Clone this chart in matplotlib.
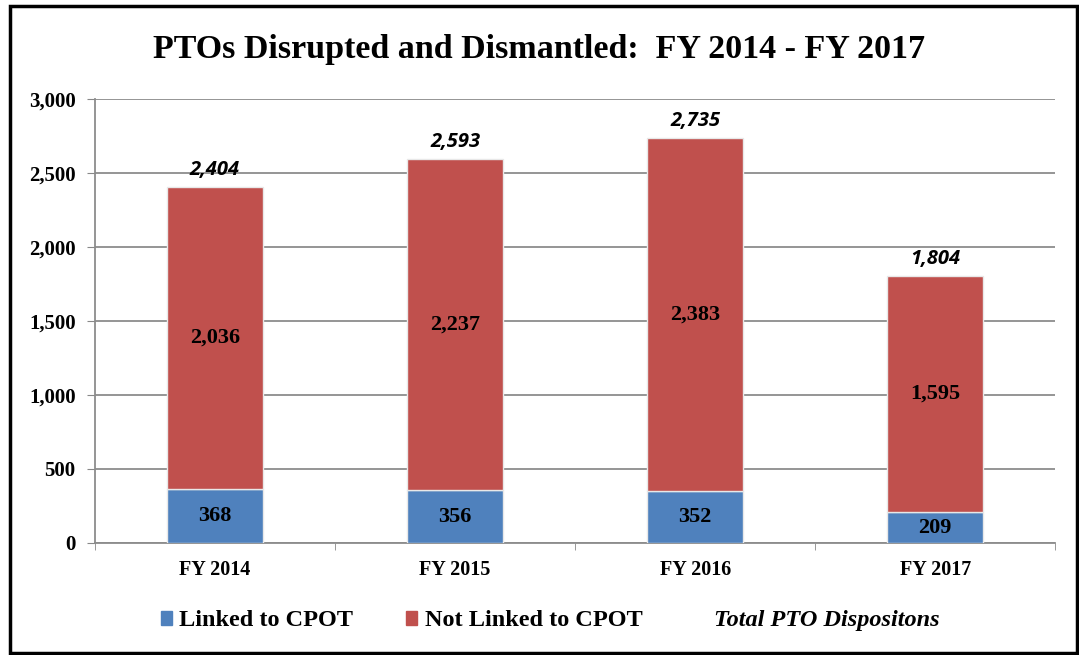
import matplotlib.pyplot as plt
import numpy as np
from matplotlib.patches import Patch, Rectangle
from matplotlib.lines import Line2D

years = ['FY 2014', 'FY 2015', 'FY 2016', 'FY 2017']
linked = [368, 356, 352, 209]
not_linked = [2036, 2237, 2383, 1595]
totals = [2404, 2593, 2735, 1804]

blue = '#4F81BD'
red = '#C0504D'
serif = 'Liberation Serif'

fig = plt.figure(figsize=(10.79, 6.55), dpi=100)
ax = fig.add_axes([0.088, 0.171, 0.89, 0.678])

x = np.arange(len(years))
w = 0.4
ax.bar(x, linked, w, color=blue, edgecolor='#e8e8e8', linewidth=1, zorder=3)
ax.bar(x, not_linked, w, bottom=linked, color=red, edgecolor='#e8e8e8', linewidth=1, zorder=3)

for i in range(len(years)):
    ax.text(x[i], linked[i] / 2, f'{linked[i]:,}', ha='center', va='center',
            fontsize=16, fontweight='bold', family=serif, zorder=4)
    ax.text(x[i], linked[i] + not_linked[i] / 2, f'{not_linked[i]:,}', ha='center', va='center',
            fontsize=16, fontweight='bold', family=serif, zorder=4)
    ax.text(x[i], totals[i] + 45, f'{totals[i]:,}', ha='center', va='bottom',
            fontsize=14.5, fontweight='bold', style='italic', family='Open Sans', zorder=4)

ax.set_xlim(-0.5, 3.5)
ax.set_ylim(0, 3000)
ax.set_yticks(np.arange(0, 3001, 500))
ax.set_yticklabels([f'{v:,}' for v in range(0, 3001, 500)], fontsize=15, fontweight='bold', family=serif)
ax.set_xticks(x)
ax.set_xticklabels(years, fontsize=14.5, fontweight='bold', family=serif)
ax.set_xticks(np.arange(-0.5, 3.6, 1), minor=True)
ax.tick_params(axis='x', which='major', length=0, pad=12)
ax.tick_params(axis='x', which='minor', length=5, color='#888888')
ax.tick_params(axis='y', length=6, color='#888888', pad=8)
ax.grid(axis='y', color='#8c8c8c', linewidth=1.3, zorder=0)
for s in ['top', 'right']:
    ax.spines[s].set_visible(False)
for s in ['left', 'bottom']:
    ax.spines[s].set_color('#8c8c8c')
    ax.spines[s].set_linewidth(1.3)

fig.suptitle('PTOs Disrupted and Dismantled:  FY 2014 - FY 2017', y=0.948,
             fontsize=24.5, fontweight='bold', family=serif)

handles = [Patch(color=blue), Patch(color=red), Line2D([], [], linestyle='none')]
labels = ['Linked to CPOT', 'Not Linked to CPOT', 'Total PTO Dispositons']
leg = fig.legend(handles, labels, loc='center', bbox_to_anchor=(0.51, 0.052), ncol=3,
                 frameon=False, handlelength=0.45, handleheight=0.55, handletextpad=0.3,
                 columnspacing=2.2, prop={'family': serif, 'weight': 'bold', 'size': 17.5})
leg.get_texts()[2].set_style('italic')

fig.add_artist(Rectangle((0.009, 0.003), 0.989, 0.988, transform=fig.transFigure,
                         fill=False, edgecolor='black', linewidth=2.5))

fig.savefig('out.png', dpi=100)
